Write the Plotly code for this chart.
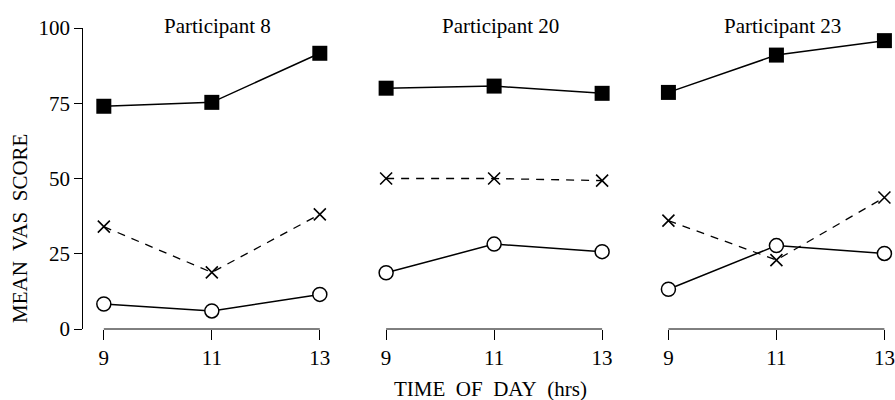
import plotly.graph_objects as go

# ---- data ----
hours = [9, 11, 13]
participants = ["Participant 8", "Participant 20", "Participant 23"]
y_ticks = [0, 25, 50, 75, 100]

# filled squares (solid line)
score_square = [
    [74.0, 75.3, 91.6],
    [80.0, 80.7, 78.3],
    [78.6, 91.0, 95.8],
]
# crosses (dashed line)
score_cross = [
    [34.0, 18.8, 38.1],
    [50.0, 50.0, 49.3],
    [36.0, 22.9, 43.7],
]
# open circles (solid line)
score_circle = [
    [8.3, 6.0, 11.5],
    [18.7, 28.2, 25.7],
    [13.2, 27.7, 25.1],
]

# ---- layout geometry ----
W, H = 895, 400
FONT = "Liberation Serif, Times New Roman, serif"
FS = 21
unit = 54.0          # px per hour
xmin, xmax = 8.62, 13.1
left0 = 83.3
step = 282.3
y_bot_px, y_top_px = 329.0, 28.0

fig = go.Figure()

for i in range(3):
    xa = "x" if i == 0 else f"x{i+1}"
    ya = "y" if i == 0 else f"y{i+1}"
    common = dict(xaxis=xa, yaxis=ya, showlegend=False, cliponaxis=False, hoverinfo="x+y")
    fig.add_trace(go.Scatter(
        x=hours, y=score_square[i], mode="lines+markers", name="square",
        line=dict(color="black", width=1.5),
        marker=dict(symbol="square", size=15, color="black", line=dict(width=0)),
        **common))
    fig.add_trace(go.Scatter(
        x=hours, y=score_cross[i], mode="lines+markers", name="cross",
        line=dict(color="black", width=1.3, dash="8px,7px"),
        marker=dict(symbol="x-thin", size=12, color="black", line=dict(width=1.6, color="black")),
        **common))
    fig.add_trace(go.Scatter(
        x=hours, y=score_circle[i], mode="lines+markers", name="circle",
        line=dict(color="black", width=1.5),
        marker=dict(symbol="circle", size=14, color="white", line=dict(width=1.5, color="black")),
        **common))

layout = dict(
    width=W, height=H,
    margin=dict(l=0, r=0, t=0, b=0, autoexpand=False),
    paper_bgcolor="white", plot_bgcolor="white",
    font=dict(family=FONT, size=FS, color="black"),
)

ydom = [1 - y_bot_px / H, 1 - y_top_px / H]
shapes = []
annotations = []
for i in range(3):
    left = left0 + i * step
    right = left + (xmax - xmin) * unit
    key = "" if i == 0 else str(i + 1)
    layout["xaxis" + key] = dict(
        domain=[left / W, right / W], range=[xmin, xmax], automargin=False,
        anchor="y" + key, showline=False, showgrid=False, zeroline=False,
        tickmode="array", tickvals=hours, ticktext=[str(h) for h in hours],
        ticks="outside", ticklen=10, tickwidth=1, tickcolor="black",
        tickfont=dict(family=FONT, size=FS, color="black"),
    )
    layout["yaxis" + key] = dict(
        domain=ydom, range=[0, 100], anchor="x" + key, automargin=False,
        showgrid=False, zeroline=False,
        visible=(i == 0),
        showline=(i == 0), linecolor="black", linewidth=1,
        tickmode="array", tickvals=y_ticks,
        ticks="outside", ticklen=8, tickwidth=1, tickcolor="black",
        tickfont=dict(family=FONT, size=FS, color="black"),
    )
    # range-frame x axis line from first to last tick
    shapes.append(dict(
        type="line", xref="x" + key, yref="y" + key + " domain" if key else "y domain",
        x0=hours[0], x1=hours[-1], y0=0, y1=0,
        line=dict(color="black", width=1),
    ))
    annotations.append(dict(
        text=participants[i], xref="x" + key, yref="paper",
        x=hours[1], y=1 - 26 / H, xshift=6, showarrow=False,
        xanchor="center", yanchor="middle",
        font=dict(family=FONT, size=FS, color="black"),
    ))

annotations.append(dict(
    text="MEAN\u00a0 VAS\u00a0 SCORE", xref="paper", yref="paper",
    x=20 / W, y=1 - 229 / H, textangle=-90, showarrow=False,
    xanchor="center", yanchor="middle",
    font=dict(family=FONT, size=FS, color="black"),
))
annotations.append(dict(
    text="TIME\u00a0 OF\u00a0 DAY\u00a0 (hrs)", xref="paper", yref="paper",
    x=490 / W, y=1 - 389 / H, showarrow=False,
    xanchor="center", yanchor="middle",
    font=dict(family=FONT, size=FS, color="black"),
))

layout["shapes"] = shapes
layout["annotations"] = annotations
fig.update_layout(**layout)

fig.write_html(
    "out.html",
    config={"displayModeBar": False},
    post_script="document.body.style.margin='0';document.body.style.overflow='hidden';",
)
